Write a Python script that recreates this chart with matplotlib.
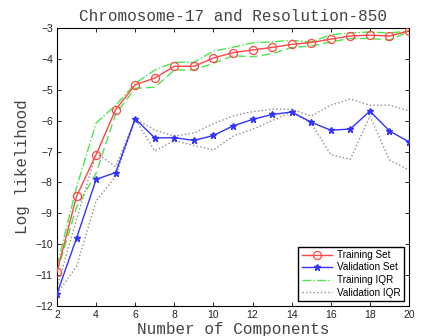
import matplotlib
matplotlib.use("Agg")
import matplotlib.pyplot as plt

components = list(range(2, 21))
training = [-10.89, -8.45, -7.1, -5.64, -4.84, -4.62, -4.24, -4.24, -3.97, -3.80,
            -3.71, -3.63, -3.53, -3.47, -3.36, -3.26, -3.23, -3.26, -3.10]
validation = [-11.6, -9.8, -7.9, -7.68, -5.94, -6.56, -6.55, -6.64, -6.48, -6.17,
              -5.96, -5.80, -5.72, -6.05, -6.31, -6.27, -5.69, -6.33, -6.69]
train_q75 = [-10.7, -8.15, -6.08, -5.5, -4.8, -4.36, -4.11, -4.11, -3.75, -3.62,
             -3.48, -3.45, -3.4, -3.45, -3.22, -3.16, -3.13, -3.16, -3.1]
train_q25 = [-10.9, -8.8, -7.7, -5.78, -4.95, -4.92, -4.36, -4.36, -4.14, -3.9,
             -3.93, -3.83, -3.63, -3.58, -3.45, -3.34, -3.34, -3.39, -3.12]
val_q75 = [-11.4, -9.2, -7.05, -7.49, -5.95, -6.3, -6.5, -6.4, -6.1, -5.85,
           -5.71, -5.63, -5.63, -5.85, -5.5, -5.3, -5.5, -5.5, -5.68]
val_q25 = [-11.6, -10.72, -8.6, -7.8, -5.95, -6.98, -6.65, -6.8, -6.95, -6.5,
           -6.28, -6.0, -5.72, -6.08, -7.1, -7.25, -5.85, -7.27, -7.6]

xticks = list(range(2, 21, 2))
yticks = list(range(-12, -2))

title = "Chromosome-17 and Resolution-850"
xlabel = "Number of Components"
ylabel = "Log likelihood"

mono = "Liberation Mono"
sans = "Liberation Sans"

fig = plt.figure(figsize=(4.28, 3.36), dpi=100)
ax = fig.add_axes([57/428, 1-306/336, (409-57)/428, (306-28)/336])

red = "#ff4646"
blue = "#3333ff"
green = "#4ce64c"
gray = "#8c8c8c"

ax.plot(components, train_q75, color=green, linestyle="-.", linewidth=1.0, zorder=2)
ax.plot(components, train_q25, color=green, linestyle=(0, (6, 3)), linewidth=1.0, zorder=2)
ax.plot(components, val_q75, color=gray, linestyle=":", linewidth=1.0, zorder=2)
l4, = ax.plot(components, val_q25, color=gray, linestyle=":", linewidth=1.0, zorder=2)
l1, = ax.plot(components, training, color=red, linewidth=1.0, marker="o", markersize=5.8,
              markerfacecolor="none", markeredgecolor=red, markeredgewidth=0.9, zorder=3)
l2, = ax.plot(components, validation, color=blue, linewidth=1.0, marker="*", markersize=5,
              markerfacecolor=blue, markeredgecolor=blue, zorder=3)

g_leg, = ax.plot([], [], color=green, linestyle="-.", linewidth=1.0)
ax.legend([l1, l2, g_leg, l4], ["Training Set", "Validation Set", "Training IQR", "Validation IQR"],
          loc="lower right", prop={"family": sans, "size": 7.2}, frameon=True, fancybox=False,
          edgecolor="black", framealpha=1, borderpad=0.35, labelspacing=0.25,
          handlelength=3.0, handletextpad=0.5, borderaxespad=0.5)

ax.set_xlim(2, 20)
ax.set_ylim(-12, -3)
ax.set_xticks(xticks)
ax.set_yticks(yticks)
ax.set_xticklabels([str(t) for t in xticks], family=sans, fontsize=7.5, color="#222222")
ax.set_yticklabels([("\u2212" + str(abs(t))) if t < 0 else str(t) for t in yticks],
                   family=sans, fontsize=7.5, color="#222222")
ax.tick_params(direction="in", length=3, width=0.6, top=True, right=True, pad=3)
for s in ax.spines.values():
    s.set_linewidth(0.8)

ax.set_title(title, family=mono, fontsize=11.5, color="#444444", pad=5)
ax.set_xlabel(xlabel, family=mono, fontsize=11.5, color="#444444", labelpad=1)
ax.set_ylabel(ylabel, family=mono, fontsize=11.5, color="#444444", labelpad=4)

fig.savefig("out.png", dpi=100)
